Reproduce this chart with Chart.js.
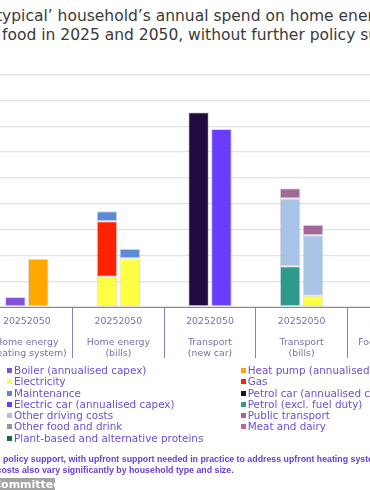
<!DOCTYPE html>
<html>
<head>
<meta charset="utf-8">
<script src="https://cdn.jsdelivr.net/npm/chart.js@4/dist/chart.umd.min.js"></script>
<style>
  html, body { margin: 0; padding: 0; width: 370px; height: 490px; overflow: hidden; background: #fff; position: relative; font-family: "DejaVu Sans", sans-serif; }
  .title { position: absolute; white-space: nowrap; font-size: 15.5px; line-height: 18px; color: #3a3a3a; }
  #wrap { position: absolute; left: -120px; top: 40px; width: 580px; height: 330px; }
  #legend { position: absolute; left: 7px; top: 365px; width: 470px; display: grid; grid-template-columns: 233.7px 240px; row-gap: 0; font-size: 10.4px; color: #6d4fd0; }
  #legend div { height: 11.3px; line-height: 11.3px; white-space: nowrap; }
  #legend span { display: inline-block; width: 5px; height: 5px; margin-right: 2px; vertical-align: 1px; }
  .note { position: absolute; white-space: nowrap; font-family: "Liberation Sans", sans-serif; font-weight: bold; font-size: 8.8px; line-height: 11px; color: #6a3fd6; }
  #src { position: absolute; left: 0; top: 478px; width: 55px; height: 14px; background: #a3a3a3; color: #fff; font-weight: bold; font-size: 11px; line-height: 13px; overflow: hidden; white-space: nowrap; }
</style>
</head>
<body>
<div class="title" style="top:7px;left:-4px">typical’ household’s annual spend on home energy, transport</div>
<div class="title" style="top:26px;left:-32px">and food in 2025 and 2050, without further policy support</div>
<div id="wrap"><canvas id="chart"></canvas></div>
<div id="legend"></div>
<div class="note" style="top:453.5px;left:3px">policy support, with upfront support needed in practice to address upfront heating system costs.</div>
<div class="note" style="top:465px;left:-3.5px">costs also vary significantly by household type and size.</div>
<div id="src"><span style="margin-left:-7px">Committee</span></div>
<script>
// £ per year, gridlines every 500
var categories = [
  ["Home energy", "(heating system)"],
  ["Home energy", "(bills)"],
  ["Transport", "(new car)"],
  ["Transport", "(bills)"],
  ["Food and drink", ""]
];
var years = ["2025", "2050"];
var seriesNames = [
  "Boiler (annualised capex)", "Heat pump (annualised capex)",
  "Electricity", "Gas",
  "Maintenance", "Petrol car (annualised capex)",
  "Electric car (annualised capex)", "Petrol (excl. fuel duty)",
  "Other driving costs", "Public transport",
  "Other food and drink", "Meat and dairy",
  "Plant-based and alternative proteins"
];
var seriesColors = [
  "#8452d6", "#ffa800", "#ffff44", "#ff2200", "#5b8ad6", "#210a3e", "#6a3cff",
  "#2f9a8a", "#a9c3e6", "#a3689a", "#959595", "#c0678a", "#1b6b34"
];
// rows follow seriesNames, columns follow categories
var values2025 = [
  [195, 0, 0, 0, 0],
  [0, 0, 0, 0, 0],
  [0, 585, 0, 0, 0],
  [0, 1075, 0, 0, 0],
  [0, 195, 0, 0, 0],
  [0, 0, 3775, 0, 0],
  [0, 0, 0, 0, 0],
  [0, 0, 0, 790, 0],
  [0, 0, 0, 1310, 0],
  [0, 0, 0, 200, 0],
  [0, 0, 0, 0, 1800],
  [0, 0, 0, 0, 900],
  [0, 0, 0, 0, 50]
];
var values2050 = [
  [0, 0, 0, 0, 0],
  [930, 0, 0, 0, 0],
  [0, 945, 0, 220, 0],
  [0, 0, 0, 0, 0],
  [0, 185, 0, 0, 0],
  [0, 0, 0, 0, 0],
  [0, 0, 3450, 0, 0],
  [0, 0, 0, 0, 0],
  [0, 0, 0, 1170, 0],
  [0, 0, 0, 205, 0],
  [0, 0, 0, 0, 1750],
  [0, 0, 0, 0, 800],
  [0, 0, 0, 0, 90]
];

var datasets = [];
[values2025, values2050].forEach(function (rows, y) {
  rows.forEach(function (row, i) {
    datasets.push({
      label: seriesNames[i],
      data: row,
      stack: years[y],
      backgroundColor: seriesColors[i],
      borderColor: "rgba(0,0,0,0.15)",
      borderWidth: 1,
      borderSkipped: false,
      year: years[y]
    });
  });
});

var axisColor = "#8b80c4";
var chart = new Chart(document.getElementById("chart"), {
  type: "bar",
  data: { labels: categories, datasets: datasets },
  options: {
    responsive: true,
    maintainAspectRatio: false,
    animation: false,
    categoryPercentage: 0.5,
    barPercentage: 0.9,
    layout: { padding: { left: 101, right: 21, top: 34.7, bottom: 3 } },
    plugins: { legend: { display: false }, tooltip: { enabled: false } },
    scales: {
      x: {
        stacked: true,
        afterFit: function (s) { s.height = 60; },
        border: { display: true, color: axisColor, width: 1 },
        grid: { offset: true, drawOnChartArea: false, drawTicks: true, tickLength: 51, color: axisColor },
        ticks: {
          padding: -42,
          color: "#7a70ae",
          font: { family: "DejaVu Sans", size: 9.4, lineHeight: 1.14 },
          maxRotation: 0,
          autoSkip: false,
          callback: function (v, i) {
            return [years.join("")].concat([""], categories[i]);
          }
        }
      },
      y: {
        stacked: true,
        min: 0,
        max: 4500,
        afterFit: function (s) { s.width = 0; },
        border: { display: false },
        grid: { color: "#e2e2e2", lineWidth: 1.3, drawTicks: false },
        ticks: { display: false, stepSize: 500 }
      }
    }
  }
});

// legend built from the 2025 datasets (one entry per series)
var legend = document.getElementById("legend");
chart.data.datasets.filter(function (d) { return d.year === "2025"; }).forEach(function (d) {
  var item = document.createElement("div");
  var box = document.createElement("span");
  box.style.background = d.backgroundColor;
  item.appendChild(box);
  item.appendChild(document.createTextNode(d.label));
  legend.appendChild(item);
});
</script>
</body>
</html>
